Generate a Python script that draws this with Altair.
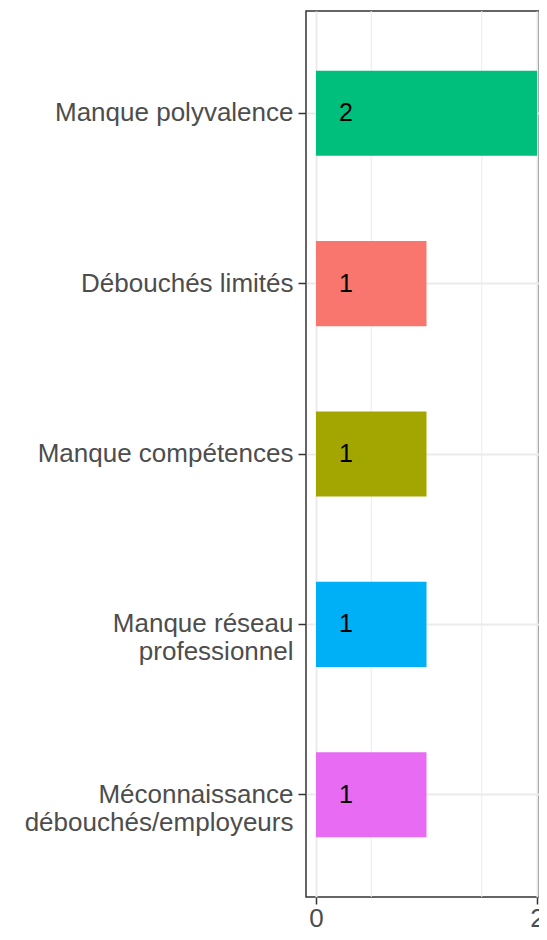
import altair as alt
import pandas as pd

categories = [
    "Manque polyvalence",
    "Débouchés limités",
    "Manque compétences",
    "Manque réseau\nprofessionnel",
    "Méconnaissance\ndébouchés/employeurs",
]
values = [2, 1, 1, 1, 1]
colors = ["#00BF7D", "#F8766D", "#A3A500", "#00B0F6", "#E76BF3"]
x_ticks = [0, 1, 2]
minor_grid = [0.5, 1.5]
label_pos = 0.27

df = pd.DataFrame({"cat": categories, "n": values, "color": colors,
                   "lx": [label_pos] * len(values)})
df_minor = pd.DataFrame({"g": minor_grid})

FONT = "Liberation Sans"
x_scale = alt.Scale(domain=[-0.0905, 2.018], nice=False, zero=False)
y_scale = alt.Scale(domain=categories, paddingInner=0.5, paddingOuter=0.35)

bars = alt.Chart(df).mark_bar().encode(
    y=alt.Y("cat:N", scale=y_scale, sort=categories, title=None,
            axis=alt.Axis(labelExpr="split(datum.value, '\\n')",
                          labelLineHeight=28, labelFontSize=26, labelFont=FONT,
                          labelColor="#4D4D4D", labelPadding=5, tickSize=8,
                          tickWidth=1.5, tickColor="#333333", domain=False,
                          grid=True, gridColor="#EBEBEB", gridWidth=2,
                          labelLimit=400)),
    x=alt.X("n:Q", scale=x_scale, title=None,
            axis=alt.Axis(values=x_ticks, labelFontSize=26, labelFont=FONT,
                          labelColor="#4D4D4D", labelPadding=1, tickSize=7,
                          tickWidth=1.5, tickColor="#333333", domain=False,
                          grid=True, gridColor="#EBEBEB", gridWidth=2,
                          labelFlush=False, labelOverlap=False, format="d")),
    color=alt.Color("color:N", scale=None, legend=None),
)

minor = alt.Chart(df_minor).mark_rule(color="#EBEBEB", strokeWidth=1).encode(
    x=alt.X("g:Q", scale=x_scale)
)

text = alt.Chart(df).mark_text(fontSize=25, font=FONT, color="black",
                               align="center", baseline="middle").encode(
    y=alt.Y("cat:N", scale=y_scale, sort=categories),
    x=alt.X("lx:Q", scale=x_scale),
    text=alt.Text("n:Q"),
)

chart = alt.layer(minor, bars, text).resolve_axis(x="shared").properties(
    width=233, height=886,
    autosize=alt.AutoSizeParams(type="none"),
    padding={"left": 298, "top": 3, "right": 0, "bottom": 34},
).configure(background="white").configure_view(stroke="#333333", strokeWidth=1.5)

chart.save("out.html", embed_options={"renderer": "svg", "actions": False})
